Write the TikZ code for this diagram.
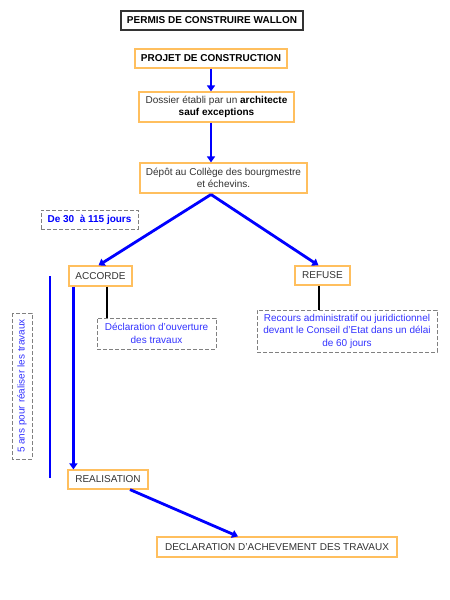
\documentclass[tikz,border=0pt]{standalone}
\usepackage{fontspec}
\setmainfont{Liberation Sans}
\usetikzlibrary{arrows.meta}
\definecolor{boxorange}{HTML}{FFBF5E}
\definecolor{boxgray}{HTML}{808080}
\definecolor{txtgray}{HTML}{333333}
\definecolor{flowblue}{HTML}{0000FF}
\definecolor{noteblue}{HTML}{3333FF}
\begin{document}
\begin{tikzpicture}[x=1pt, y=-1pt,
        step box/.style={draw=boxorange, line width=1.2pt, fill=white,
          font=\fontsize{10}{12}\selectfont, text=txtgray, align=center,
          inner sep=2pt, minimum height=19pt},
        note/.style={draw=boxgray, dash pattern=on 4pt off 2pt, line width=0.9pt,
          font=\fontsize{10}{12.5}\selectfont, text=noteblue, align=center,
          inner sep=2pt},
        flow/.style={draw=flowblue, line width=2.8pt,
          -{Triangle[length=6pt, width=8pt]}},
        link/.style={draw=black, line width=2.8pt},
      ]
        \useasboundingbox (0,0) rectangle (450,600);

        % Title
        \node[draw=txtgray, line width=1.1pt, minimum width=182pt, minimum height=19pt,
          font=\fontsize{10}{12}\selectfont\bfseries] (title) at (212,20.5)
          {PERMIS DE CONSTRUIRE WALLON};

        % Main steps
        \node[step box, minimum width=152pt, font=\fontsize{10}{12}\selectfont\bfseries,
          text=black] (projet) at (211,58.5) {PROJET DE CONSTRUCTION};
        \node[step box, minimum width=155pt, minimum height=30pt] (dossier) at (216.5,107)
          {Dossier établi par un \textcolor{black}{\bfseries architecte}\\
           \textcolor{black}{\bfseries sauf exceptions}};
        \node[step box, minimum width=167pt, minimum height=30pt] (depot) at (223.5,178)
          {Dépôt au Collège des bourgmestre\\ et échevins.};
        \coordinate (fork) at (211,194.5);

        \draw[flow] (projet) -- (projet.south |- dossier.north);
        \draw[flow] ([xshift=-5.5pt]dossier.south) -- ([xshift=-12.5pt]depot.north);

        % Decision
        \node[note, minimum width=97pt, minimum height=19pt,
          font=\fontsize{10}{12}\selectfont\bfseries, text=flowblue] (delai) at (89.5,219.5)
          {De 30~~à 115 jours};
        \node[step box, minimum width=63pt, minimum height=20pt] (accorde) at (100.5,276) {ACCORDE};
        \node[step box, minimum width=55pt] (refuse) at (322.5,275.5) {REFUSE};

        \draw[flow] (fork) -- ([xshift=-2pt]accorde.north);
        \draw[flow] (fork) -- ([xshift=-4pt]refuse.north);

        % Notes
        \node[note, minimum width=119pt, minimum height=31pt] (ouverture) at (156.5,333.5)
          {Déclaration d'ouverture\\ des travaux};
        \node[note, minimum width=180pt, minimum height=42pt] (recours) at (347,331)
          {Recours administratif ou juridictionnel\\
           devant le Conseil d'Etat dans un délai\\ de 60 jours};
        \draw[link] ([xshift=6.5pt]accorde.south) -- ([xshift=6.5pt]accorde.south |- ouverture.north);
        \draw[link] ([xshift=-3.5pt]refuse.south) -- ([xshift=-3.5pt]refuse.south |- recours.north);

        % Travaux
        \node[note, rotate=90, minimum width=146pt, minimum height=20pt] (cinq) at (22,386)
          {5 ans pour réaliser les travaux};
        \draw[flowblue, line width=2.8pt] (50,276) -- (50,478);
        \node[step box, minimum width=80pt] (real) at (108,479.5) {REALISATION};
        \draw[flow] ([xshift=5pt]accorde.south west) -- ([xshift=5pt]accorde.south west |- real.north);

        \node[step box, minimum width=240pt, minimum height=20pt] (achev) at (277,547)
          {DECLARATION D'ACHEVEMENT DES TRAVAUX};
        \draw[flow] ([xshift=22pt]real.south) -- ([xshift=-39pt]achev.north);
      \end{tikzpicture}
\end{document}
